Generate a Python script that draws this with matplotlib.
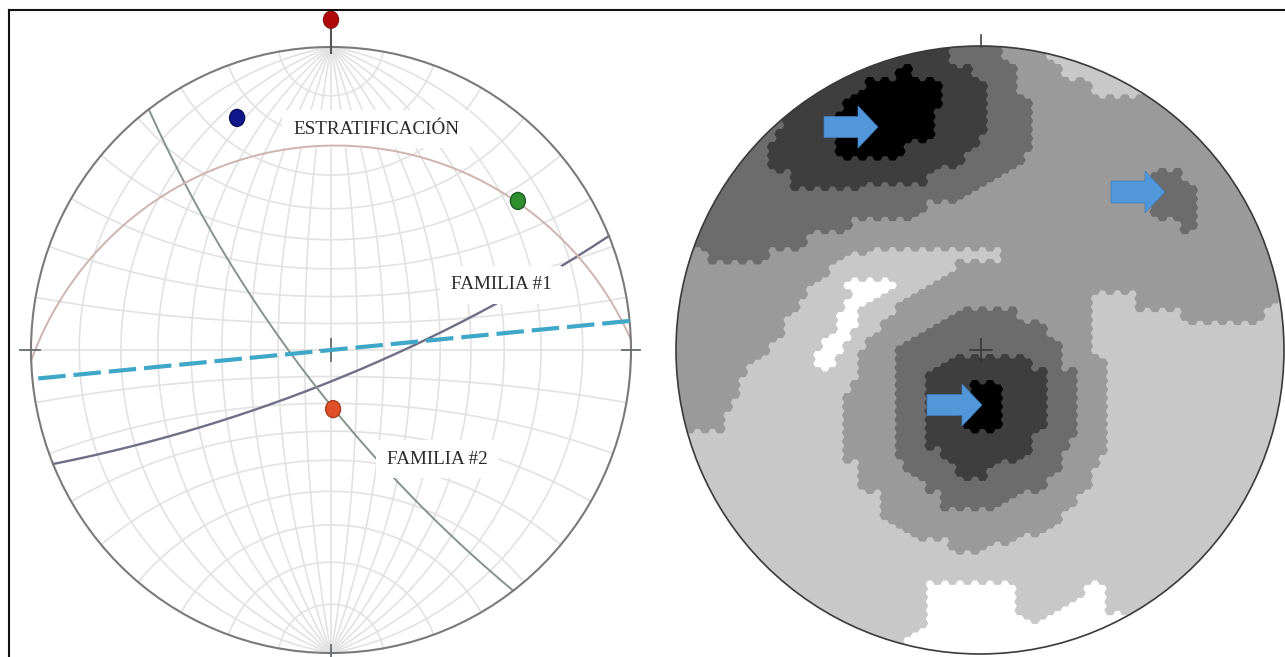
import numpy as np
import matplotlib
matplotlib.use("Agg")
import matplotlib.pyplot as plt
from matplotlib.collections import PolyCollection
from matplotlib.lines import Line2D
from matplotlib.patches import Circle, Ellipse
from matplotlib.path import Path

W, H = 1285, 657

# planes on the left net: dip direction, dip
plane_names = ["estratificacion", "familia1", "familia2", "dashed"]
plane_dipdir = [358, 157.9, 232.6, 174.5]
plane_dip = [22, 79, 77, 90]

# poles on the left net, in net radius units
pole_x = [0.0, -0.313, 0.623, 0.007]
pole_y = [1.09, 0.766, 0.492, -0.195]
pole_fill = ["#b00808", "#10168c", "#2f8f2f", "#e2502a"]
pole_edge = ["#8c1010", "#0a0f60", "#1d5c22", "#a84020"]

label_text = ["ESTRATIFICACIÓN", "FAMILIA #1", "FAMILIA #2"]
label_x = [0.150, 0.567, 0.353]
label_y = [0.729, 0.215, -0.360]

# density levels of the right net, lightest to darkest
level_grey = ["#ffffff", "#c8c8c8", "#9a9a9a", "#6c6c6c", "#3e3e3e", "#000000"]

# contour outlines (painted in this order)
zones = [
    (2, [(660, 430), (723, 430), (725, 410), (742, 397), (742, 373), (762, 355), (778, 340),
         (787, 320), (808, 287), (838, 263), (865, 250), (1000, 248), (1000, 265), (985, 262),
         (958, 263), (938, 283), (908, 297), (895, 310), (878, 332), (862, 347), (862, 377),
         (847, 390), (847, 460), (862, 463), (862, 490), (878, 493), (878, 522), (907, 525),
         (908, 537), (952, 538), (953, 553), (985, 553), (998, 543), (1042, 533), (1045, 527),
         (1062, 518), (1075, 500), (1092, 483), (1090, 467), (1108, 455), (1108, 355),
         (1090, 355), (1090, 297), (1105, 293), (1135, 293), (1138, 308), (1182, 308),
         (1183, 323), (1255, 322), (1272, 307), (1300, 285), (1300, 20), (660, 20)]),
    (1, [(1045, 55), (1062, 65), (1062, 80), (1088, 80), (1090, 98), (1142, 97), (1160, 70),
         (1100, 30), (1045, 30)]),
    (0, [(847, 285), (855, 278), (893, 278), (893, 290), (872, 297), (862, 307), (855, 325),
         (842, 347), (832, 367), (818, 373), (815, 350), (832, 335), (838, 315), (848, 300)]),
    (0, [(925, 583), (1017, 582), (1017, 613), (1032, 617), (1032, 628), (1043, 623), (1062, 603),
         (1078, 597), (1092, 583), (1108, 582), (1108, 615), (1125, 613), (1140, 680), (900, 680),
         (905, 640), (925, 623)]),
    (3, [(660, 247), (710, 250), (712, 263), (765, 263), (772, 250), (802, 247), (808, 233),
         (845, 230), (855, 217), (922, 217), (928, 203), (958, 200), (975, 187), (998, 180),
         (1015, 167), (1028, 153), (1028, 97), (1017, 93), (1017, 65), (998, 63), (998, 30),
         (660, 30)]),
    (3, [(1155, 173), (1182, 172), (1182, 185), (1198, 185), (1198, 223), (1185, 233),
         (1182, 220), (1153, 217)]),
    (3, [(893, 357), (893, 463), (907, 462), (908, 477), (925, 477), (925, 493), (938, 493),
         (940, 507), (985, 507), (1008, 505), (1018, 493), (1045, 490), (1045, 478), (1062, 473),
         (1062, 453), (1077, 433), (1077, 368), (1062, 368), (1062, 340), (1045, 340), (1043, 322),
         (1017, 320), (1017, 308), (985, 307), (958, 310), (938, 327), (925, 335), (907, 343)]),
    (4, [(788, 117), (772, 143), (772, 170), (788, 172), (788, 187), (922, 185), (928, 170),
         (955, 167), (965, 153), (985, 133), (985, 80), (972, 80), (970, 65), (952, 65), (952, 30),
         (850, 30), (775, 95)]),
    (4, [(925, 373), (925, 445), (938, 448), (938, 460), (953, 460), (953, 477), (985, 477),
         (998, 463), (1028, 458), (1028, 443), (1045, 428), (1045, 370), (1030, 370), (1030, 355),
         (952, 355), (938, 367)]),
    (5, [(833, 157), (905, 157), (908, 143), (935, 137), (940, 80), (910, 80), (908, 67), (898, 65),
         (893, 78), (865, 80), (862, 95), (847, 100), (845, 110), (835, 117)]),
    (5, [(972, 385), (1000, 385), (1000, 432), (970, 432), (960, 415), (960, 400)]),
]

# arrows on the right net: tail x, tip x, y, half shaft, half head, head length
arrow_tail = [824, 1111, 927]
arrow_tip = [878, 1165, 982]
arrow_y = [127, 192, 405]
arrow_shaft = [21, 22, 21]
arrow_head = [42, 42, 42]
arrow_len = [20, 20, 20]


def great_circle(dipdir, dip, n=200):
    dd = np.radians(dipdir)
    d = np.radians(dip)
    strike = np.array([np.sin(dd - np.pi / 2), np.cos(dd - np.pi / 2), 0.0])
    down = np.array([np.sin(dd) * np.cos(d), np.cos(dd) * np.cos(d), np.sin(d)])
    t = np.radians(np.linspace(0, 180, n))
    v = np.outer(np.cos(t), strike) + np.outer(np.sin(t), down)
    return v[:, 0] / (1 + v[:, 2]), v[:, 1] / (1 + v[:, 2])


def small_circle(colat, n=120):
    c = np.radians(colat)
    a = np.radians(np.linspace(0, 180, n))
    x = np.sin(c) * np.cos(a)
    z = np.sin(c) * np.sin(a)
    return x / (1 + z), np.cos(c) / (1 + z)


fig = plt.figure(figsize=(W / 100, H / 100), dpi=100)
plt.rcParams["font.family"] = ["Liberation Serif", "DejaVu Serif"]

# frame
fig.add_artist(Line2D([9 / W, 9 / W], [0, 1 - 10 / H], color="#111111", lw=1.5))
fig.add_artist(Line2D([9 / W, 1], [1 - 10 / H, 1 - 10 / H], color="#111111", lw=1.5))

# left net, unit radius = net radius
ax = fig.add_axes([0, 0, 660 / W, 1])
ax.set_xlim((0 - 331) / 300, (660 - 331) / 300)
ax.set_ylim((350 - 657) / 303, 350 / 303)
ax.axis("off")
ax.patch.set_alpha(0)

grid = "#e2e2e2"
for dip in range(10, 90, 10):
    for dd in (90, 270):
        x, y = great_circle(dd, dip)
        ax.plot(x, y, color=grid, lw=1.2, zorder=1)
ax.plot([-1, 1], [0, 0], color=grid, lw=1.2, zorder=1)
ax.plot([0, 0], [-1, 1], color=grid, lw=1.2, zorder=1)
for colat in range(10, 90, 10):
    x, y = small_circle(colat)
    ax.plot(x, y, color=grid, lw=1.2, zorder=1)
    ax.plot(x, -y, color=grid, lw=1.2, zorder=1)

x, y = great_circle(plane_dipdir[1], plane_dip[1])
ax.plot(x, y, color="#6f6f86", lw=1.7, zorder=2)
x, y = great_circle(plane_dipdir[2], plane_dip[2])
ax.plot(x, y, color="#84948c", lw=1.4, zorder=2)

for txt, lx, ly in zip(label_text, label_x, label_y):
    ax.text(lx, ly, txt, ha="center", va="center", fontsize=13.8, color="#2a2a2a", zorder=3,
            bbox=dict(boxstyle="square,pad=0.55", fc="white", ec="none"))

x, y = great_circle(plane_dipdir[0], plane_dip[0])
ax.plot(x, y, color="#cdb4ae", lw=1.4, zorder=4)

ax.add_patch(Ellipse((0, 0), 2, 2, fill=False, ec="#7a7a7a", lw=1.5, zorder=5))

# ticks and crosses
tick = "#666b6e"
ax.plot([0, 0], [-0.035, 0.035], color=tick, lw=1.3, zorder=5)
ax.plot([-0.035, 0.035], [0, 0], color=tick, lw=1.3, zorder=5)
ax.plot([-1.035, -0.97], [0, 0], color=tick, lw=1.3, zorder=5)
ax.plot([0.97, 1.03], [0, 0], color=tick, lw=1.3, zorder=5)
ax.plot([0, 0], [-1.025, -0.975], color=tick, lw=1.3, zorder=5)
ax.plot([0, 0], [0.98, 1.09], color="#555555", lw=1.5, zorder=5)

x, y = great_circle(plane_dipdir[3], plane_dip[3])
ax.plot(x, y, color="#3fa8c8", lw=3.0, dashes=(6.6, 1.9), zorder=6)

for px, py, fc, ec in zip(pole_x, pole_y, pole_fill, pole_edge):
    ax.add_patch(Ellipse((px, py), 15 / 300, 17 / 303, fc=fc, ec=ec, lw=1, zorder=7, clip_on=False))

# right net, axes in picture pixels
ax2 = fig.add_axes([660 / W, 0, 625 / W, 1])
ax2.set_xlim(660, 1285)
ax2.set_ylim(657, 0)
ax2.axis("off")
ax2.patch.set_alpha(0)

side = 5.0
col_step = 1.5 * side
row_step = np.sqrt(3) * side
cols = np.arange(660, 1300, col_step)
rows = np.arange(30, 670, row_step)
cx = []
cy = []
for i, c in enumerate(cols):
    for r in rows:
        cx.append(c)
        cy.append(r + (row_step / 2 if i % 2 else 0))
centres = np.column_stack([cx, cy])

levels = np.ones(len(centres), dtype=int)
for level, outline in zones:
    levels[Path(outline).contains_points(centres)] = level

# lighter cells first so the seams between cells close up
order = np.argsort(levels, kind="stable")
ang = np.radians(np.arange(0, 360, 60))
hexagon = np.column_stack([side * np.cos(ang), side * np.sin(ang)])
cells = [hexagon + centres[i] for i in order]
colours = [level_grey[levels[i]] for i in order]

disk = Circle((980, 350), 304, transform=ax2.transData)
cells_art = PolyCollection(cells, facecolors=colours, edgecolors=colours, linewidths=0.9, zorder=1)
ax2.add_collection(cells_art)
cells_art.set_clip_path(disk)

ax2.add_patch(Circle((980, 350), 304, fill=False, ec="#3a3a3a", lw=1.2, zorder=2))
ax2.plot([981, 981], [35, 47], color="#444444", lw=1.2, zorder=2)
ax2.plot([981, 981], [339, 361], color="#333333", lw=1.1, zorder=2)
ax2.plot([970, 992], [350, 350], color="#333333", lw=1.1, zorder=2)

for tail, tip, ay, shaft, head, hl in zip(arrow_tail, arrow_tip, arrow_y, arrow_shaft, arrow_head, arrow_len):
    ax2.arrow(tail, ay, tip - tail, 0, width=shaft, head_width=head, head_length=hl,
              length_includes_head=True, fc="#5197da", ec="#3f7fbf", lw=0.5, zorder=3)

fig.savefig("out.png", dpi=100)
